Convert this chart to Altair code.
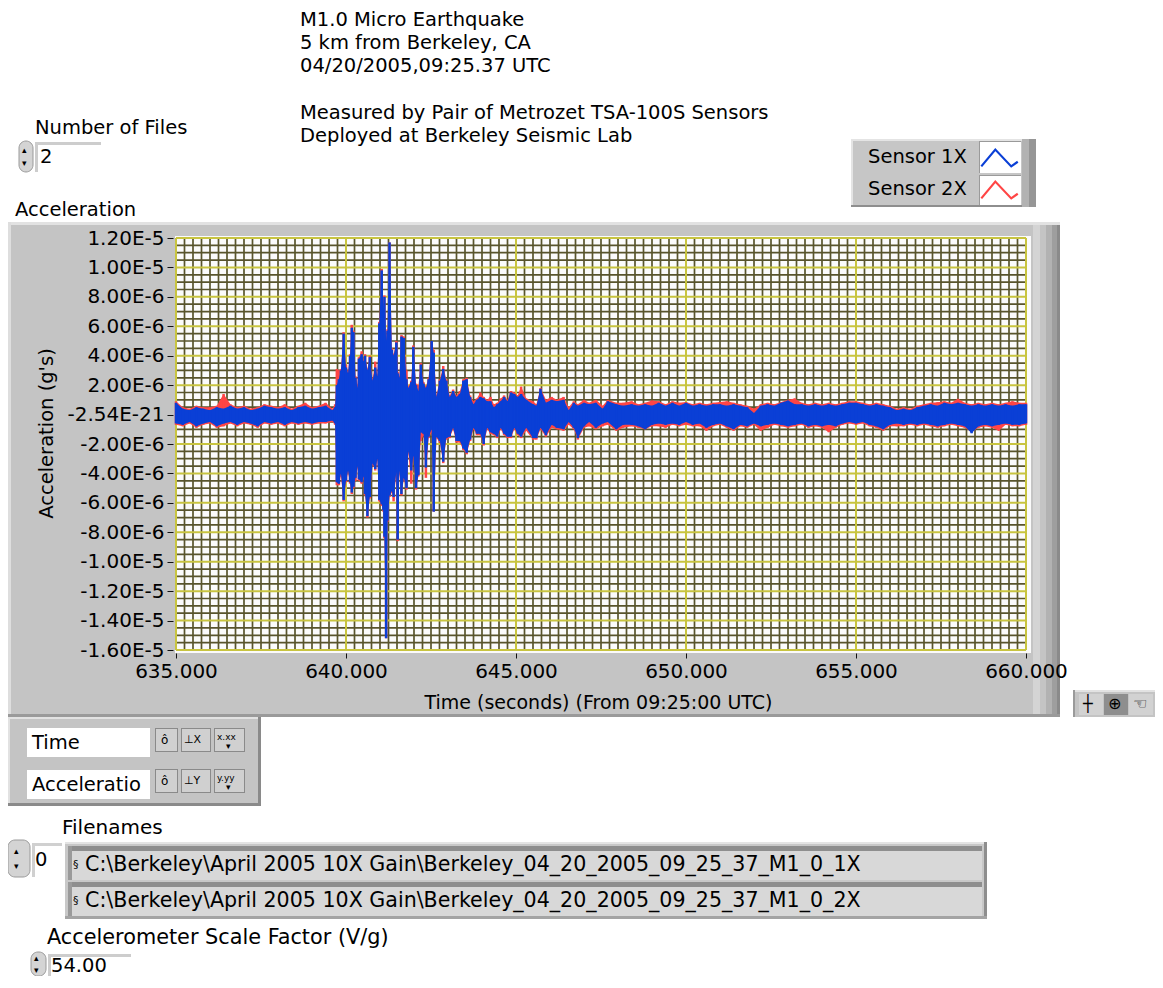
import altair as alt
import pandas as pd

# ---------------- data (acceleration in units of 1e-6 g) ----------------
TIME = [
    635.0, 635.2, 635.4, 635.6, 635.8, 636.0, 636.2, 636.4, 636.6, 636.8,
    637.0, 637.2, 637.4, 637.6, 637.8, 638.0, 638.2, 638.4, 638.6, 638.8,
    639.0, 639.2, 639.4, 639.6,
    639.68, 639.73, 639.79, 639.85, 639.93, 640.00, 640.06, 640.12, 640.17, 640.22,
    640.28, 640.34, 640.38, 640.46, 640.52, 640.56, 640.63, 640.70, 640.78, 640.86,
    640.92, 640.98, 641.05, 641.10, 641.13, 641.18, 641.22, 641.28, 641.35, 641.40,
    641.48, 641.52, 641.57, 641.63, 641.70, 641.78, 641.83, 641.92, 641.98, 642.06,
    642.13, 642.20, 642.28, 642.35, 642.43, 642.52, 642.58, 642.66, 642.76, 642.86,
    642.95, 643.05, 643.15, 643.25, 643.35, 643.45, 643.55, 643.65, 643.75, 643.85,
    643.95, 644.05, 644.15, 644.25, 644.35, 644.45, 644.55, 644.65, 644.75, 644.85,
    644.95, 645.05, 645.15, 645.30, 645.50, 645.60, 645.72, 645.88, 646.05, 646.20,
    646.40, 646.55, 646.70, 646.82, 647.00, 647.15, 647.35, 647.55, 647.70, 647.95,
    648.15,
    648.4, 648.6, 648.8, 649.0, 649.2, 649.4, 649.6, 649.8, 650.0, 650.2,
    650.4, 650.6, 650.8, 651.0, 651.2, 651.4, 651.6, 651.8, 652.0, 652.2,
    652.4, 652.6, 652.8, 653.0, 653.2, 653.4, 653.6, 653.8, 654.0, 654.2,
    654.4, 654.6, 654.8, 655.0, 655.2, 655.4, 655.6, 655.8, 656.0, 656.2,
    656.4, 656.6, 656.8, 657.0, 657.2, 657.4, 657.6, 657.8, 658.0, 658.2,
    658.4, 658.6, 658.8, 659.0, 659.2, 659.4, 659.6, 659.8, 660.0,
]

# Sensor 1X (blue) upper / lower envelope
S1_HI = [
    0.8, 0.4, 0.3, 0.5, 0.4, 0.3, 0.5, 0.4, 0.6, 0.4,
    0.5, 0.3, 0.4, 0.6, 0.5, 0.4, 0.5, 0.3, 0.5, 0.6,
    0.4, 0.5, 0.6, 0.3,
    0.5, 2.0, 2.4, 3.0, 5.5, 3.2, 2.8, 4.0, 5.9, 5.6,
    2.5, 1.8, 3.8, 4.1, 3.6, 4.0, 3.0, 3.9, 2.3, 3.2,
    2.6, 6.2, 9.8, 7.2, 8.0, 5.0, 5.7, 11.7, 4.4, 4.0,
    4.9, 2.8, 2.5, 5.3, 5.2, 2.4, 1.8, 2.2, 4.6, 2.0,
    1.6, 3.4, 2.1, 1.8, 2.4, 5.0, 4.2, 1.2, 2.3, 3.1,
    2.3, 1.2, 1.6, 1.2, 1.4, 2.3, 2.4, 1.2, 0.7, 1.0,
    1.2, 1.1, 0.9, 0.9, 0.5, 0.7, 0.9, 1.2, 0.9, 1.5,
    1.4, 1.2, 1.4, 1.0, 0.7, 0.6, 1.75, 0.8, 1.0, 0.9,
    1.0, 0.3, 0.8, 0.6, 0.8, 0.7, 0.8, 0.4, 0.9, 0.7,
    0.6,
    0.7, 0.6, 0.7, 0.6, 0.8, 0.6, 0.8, 0.6, 0.8, 0.6,
    0.7, 0.6, 0.7, 0.7, 0.6, 0.7, 0.6, 0.5, 0.1, 0.6,
    0.7, 0.6, 0.8, 0.95, 0.7, 0.7, 0.6, 0.7, 0.6, 0.7,
    0.6, 0.7, 0.8, 0.8, 0.7, 0.6, 0.7, 0.6, 0.5, 0.3,
    0.4, 0.3, 0.5, 0.6, 0.7, 0.6, 0.8, 0.7, 0.8, 0.7,
    0.6, 0.7, 0.6, 0.7, 0.6, 0.7, 0.6, 0.7, 0.7,
]
S1_LO = [
    -0.6, -0.7, -0.5, -0.8, -0.6, -0.5, -0.8, -0.6, -0.5, -0.7,
    -0.5, -0.6, -0.8, -0.5, -0.6, -0.5, -0.7, -0.5, -0.6, -0.5,
    -0.6, -0.5, -0.5, -0.4,
    -0.6, -4.6, -4.7, -4.0, -5.8, -4.5, -3.8, -4.6, -5.3, -4.9,
    -4.3, -3.5, -4.4, -4.6, -4.2, -5.4, -6.9, -5.6, -3.3, -3.7,
    -3.0, -5.8, -6.1, -6.5, -8.3, -15.2, -7.2, -5.5, -5.2, -5.6,
    -3.9, -8.5, -3.8, -5.4, -4.3, -5.0, -2.5, -3.8, -2.8, -5.0,
    -4.1, -1.2, -1.3, -3.6, -1.5, -1.0, -6.6, -1.5, -1.8, -3.2,
    -1.6, -1.5, -0.9, -1.8, -1.8, -2.3, -2.6, -1.7, -0.9, -1.3,
    -1.3, -2.0, -0.9, -1.2, -1.3, -1.5, -0.9, -1.3, -1.5, -1.5,
    -0.9, -1.3, -1.5, -0.9, -1.6, -1.6, -0.9, -1.4, -0.7, -0.9,
    -1.0, -0.5, -0.9, -1.6, -0.8, -0.5, -0.9, -0.6, -0.5, -1.0,
    -0.7,
    -0.7, -0.8, -1.0, -0.7, -0.6, -0.7, -0.6, -0.7, -0.5, -0.7,
    -0.6, -0.9, -0.7, -0.6, -0.8, -1.0, -0.7, -0.8, -0.6, -0.8,
    -0.7, -0.6, -0.7, -0.8, -0.7, -0.6, -0.8, -0.7, -0.8, -0.7,
    -0.8, -0.6, -0.5, -0.6, -0.5, -0.7, -0.8, -1.0, -0.7, -0.6,
    -0.7, -0.6, -0.7, -0.6, -0.7, -0.8, -0.7, -0.6, -0.7, -0.8,
    -1.27, -0.8, -0.7, -0.8, -0.7, -0.6, -0.7, -0.7, -0.6,
]

# Sensor 2X (red) upper / lower envelope
S2_HI = [
    0.9, 0.5, 0.4, 0.6, 0.5, 0.5, 0.6, 1.4, 0.7, 0.5,
    0.6, 0.4, 0.5, 0.7, 0.6, 0.5, 0.7, 0.4, 0.6, 0.8,
    0.5, 0.6, 0.8, 0.4,
    0.7, 3.1, 3.0, 3.1, 5.6, 3.4, 2.9, 4.1, 6.1, 5.7,
    2.6, 2.0, 3.9, 4.3, 3.7, 4.1, 3.1, 4.0, 2.4, 3.6,
    2.7, 6.3, 9.9, 7.3, 8.1, 5.1, 5.8, 11.7, 4.5, 4.1,
    5.0, 2.9, 2.6, 5.4, 5.3, 3.0, 1.9, 2.3, 4.7, 2.1,
    2.0, 3.5, 2.2, 1.9, 2.5, 5.0, 4.4, 1.3, 2.4, 3.3,
    2.4, 1.3, 1.7, 1.3, 1.6, 2.4, 2.5, 1.3, 0.9, 1.1,
    1.5, 1.2, 1.0, 1.2, 0.7, 0.8, 1.1, 1.3, 1.0, 1.6,
    1.5, 1.3, 1.9, 1.1, 0.9, 0.7, 1.8, 1.0, 1.2, 1.0,
    1.2, 0.5, 0.9, 0.7, 1.0, 0.8, 1.0, 0.6, 1.0, 0.8,
    0.8,
    0.9, 0.7, 0.8, 0.95, 0.9, 0.7, 0.9, 0.8, 0.85, 0.7,
    0.8, 0.7, 0.8, 0.85, 0.9, 0.8, 0.7, 0.6, 0.4, 0.7,
    0.8, 0.7, 0.85, 1.0, 1.1, 0.8, 0.7, 0.8, 0.7, 0.8,
    0.7, 0.8, 0.9, 0.9, 0.8, 0.7, 0.8, 0.7, 0.6, 0.4,
    0.5, 0.4, 0.6, 0.7, 0.8, 0.84, 0.9, 0.8, 1.07, 0.8,
    0.7, 0.8, 0.7, 0.8, 0.7, 0.8, 0.9, 0.8, 0.8,
]
S2_LO = [
    -0.7, -0.8, -0.6, -0.9, -0.7, -0.6, -0.9, -0.8, -0.6, -0.8,
    -0.6, -0.7, -0.9, -0.6, -0.7, -0.6, -0.8, -0.6, -0.7, -0.6,
    -0.7, -0.6, -0.6, -0.5,
    -0.7, -4.8, -4.8, -4.2, -5.9, -4.6, -3.9, -4.7, -5.4, -5.0,
    -4.5, -3.6, -4.5, -4.7, -4.3, -5.5, -7.0, -5.7, -3.4, -3.8,
    -3.1, -5.9, -6.2, -6.6, -8.4, -15.2, -7.3, -5.6, -5.3, -5.9,
    -4.0, -8.6, -3.9, -5.5, -4.4, -5.1, -2.6, -4.7, -2.9, -5.1,
    -4.2, -1.8, -1.4, -4.3, -1.6, -1.2, -6.6, -1.6, -1.9, -3.3,
    -1.7, -1.6, -1.0, -1.9, -1.9, -2.4, -2.7, -1.8, -1.0, -1.4,
    -1.4, -2.1, -1.0, -1.3, -1.4, -1.6, -1.0, -1.4, -1.6, -1.6,
    -1.0, -1.4, -1.6, -1.1, -1.7, -1.7, -1.0, -1.5, -0.9, -1.0,
    -1.1, -0.7, -1.0, -1.7, -0.9, -0.8, -1.0, -0.8, -0.7, -1.1,
    -0.9,
    -0.8, -0.9, -1.0, -0.8, -0.8, -0.9, -0.7, -0.8, -0.7, -0.8,
    -0.8, -1.1, -0.8, -0.7, -0.9, -1.1, -0.8, -0.9, -0.7, -1.1,
    -0.9, -0.7, -0.8, -0.9, -0.8, -0.7, -0.9, -0.8, -0.9, -1.2,
    -0.9, -0.7, -0.6, -0.7, -0.6, -0.8, -0.9, -1.1, -0.8, -0.8,
    -0.8, -0.7, -0.8, -0.7, -0.8, -0.9, -0.8, -0.7, -0.8, -0.9,
    -1.2, -0.9, -0.8, -0.9, -1.1, -0.7, -0.8, -0.8, -0.7,
]

SERIES_NAMES = ["Sensor 1X", "Sensor 2X"]
Y_TICKS = [12, 10, 8, 6, 4, 2, 0, -2, -4, -6, -8, -10, -12, -14, -16]
Y_TICK_LABELS = ["1.20E-5", "1.00E-5", "8.00E-6", "6.00E-6", "4.00E-6", "2.00E-6",
                 "-2.54E-21", "-2.00E-6", "-4.00E-6", "-6.00E-6", "-8.00E-6",
                 "-1.00E-5", "-1.20E-5", "-1.40E-5", "-1.60E-5"]
X_TICKS = [635, 640, 645, 650, 655, 660]
TITLE_LINES = ["M1.0 Micro Earthquake", "5 km from Berkeley, CA", "04/20/2005,09:25.37 UTC",
               "Measured by Pair of Metrozet TSA-100S Sensors", "Deployed at Berkeley Seismic Lab"]
FILENAMES = [r"C:\Berkeley\April 2005 10X Gain\Berkeley_04_20_2005_09_25_37_M1_0_1X",
             r"C:\Berkeley\April 2005 10X Gain\Berkeley_04_20_2005_09_25_37_M1_0_2X"]

assert len(TIME) == len(S1_HI) == len(S1_LO) == len(S2_HI) == len(S2_LO)

# ---------------- layout ----------------
FONT = "DejaVu Sans"
BLUE = "#0a3fd6"
RED = "#ff4545"
PANEL = "#c4c4c4"
PAD_L, PAD_T = 168, 230
W, H = 850, 412
PAD_R = 1147 - PAD_L - W
PAD_B = 968 - PAD_T - H
X_DOM = [635, 660]
Y_DOM = [-16, 12]


def cx(v):
    return v - 8 - PAD_L


def cy(v):
    return v - 8 - PAD_T


df = pd.DataFrame({"t": TIME, "s1_hi": S1_HI, "s1_lo": S1_LO, "s2_hi": S2_HI, "s2_lo": S2_LO})

xscale = alt.Scale(domain=X_DOM, nice=False, zero=False)
yscale = alt.Scale(domain=Y_DOM, nice=False, zero=False)

label_expr = " : ".join(f"datum.value == {v} ? '{s}'" for v, s in zip(Y_TICKS, Y_TICK_LABELS)) + " : ''"

x_axis = alt.Axis(values=X_TICKS, format=".3f", grid=False, domain=False, ticks=True,
                  tickSize=5, tickColor="#111111", offset=3, labelPadding=3,
                  labelFont=FONT, labelFontSize=20, labelColor="#000000",
                  labelFlush=False, labelOverlap=False,
                  title="Time (seconds) (From 09:25:00 UTC)", titleFont=FONT,
                  titleFontSize=19, titleFontWeight="normal", titleColor="#000000",
                  titleX=422, titleY=49, titleBaseline="middle", titleAlign="center",
                  zindex=1)
y_axis = alt.Axis(values=Y_TICKS, labelExpr=label_expr, grid=False, domain=False,
                  tickSize=6, tickColor="#111111", offset=3, labelPadding=3,
                  labelFont=FONT, labelFontSize=20, labelColor="#000000",
                  labelFlush=False, labelOverlap=False,
                  title="Acceleration (g's)", titleFont=FONT, titleFontSize=19.5,
                  titleFontWeight="normal", titleColor="#000000", titleAngle=270,
                  titleX=-127, titleY=195, titleAlign="center", titleBaseline="middle",
                  zindex=1)

# ---------------- chrome (LabVIEW panel look) ----------------
RECTS = [
    # graph panel
    (8, 222, 1060, 717, PANEL), (8, 222, 1060, 225, "#e2e2e2"), (8, 222, 11, 717, "#dedede"),
    (8, 714, 1060, 717, "#9a9a9a"),
    (1033, 225, 1040, 714, "#d4d4d4"), (1040, 225, 1046, 714, "#c4c4c4"),
    (1046, 225, 1052, 714, "#b2b2b2"), (1052, 225, 1057, 714, "#9e9e9e"),
    (1057, 225, 1060, 714, "#8a8a8a"),
    # plot background
    (175, 236, 1031, 653, "#fbfbfb"),
    # legend box
    (851, 139, 1036, 207, "#c6c6c6"), (851, 139, 1036, 141, "#e4e4e4"), (851, 139, 853, 207, "#e4e4e4"),
    (851, 205, 1036, 207, "#8e8e8e"), (1022, 139, 1029, 207, "#b2b2b2"), (1029, 139, 1036, 207, "#969696"),
    (979, 141, 1021, 173, "#9a9a9a"), (980, 142, 1021, 173, "#ffffff"),
    (979, 175, 1021, 205, "#9a9a9a"), (980, 176, 1021, 205, "#ffffff"),
    # number of files box
    (35, 142, 101, 172, "#ffffff"), (35, 142, 101, 145, "#cdcdcd"), (35, 142, 38, 172, "#cdcdcd"),
    # bottom-right tool panel
    (1073, 690, 1163, 717, PANEL), (1073, 690, 1163, 692, "#e2e2e2"), (1073, 690, 1075, 717, "#9a9a9a"),
    (1079, 694, 1103, 715, "#d2d2d2"), (1104, 694, 1128, 715, "#8e8e8e"), (1129, 694, 1153, 715, "#d2d2d2"),
    # scale legend panel
    (8, 717, 261, 806, PANEL), (8, 717, 261, 719, "#e2e2e2"), (8, 717, 10, 806, "#e2e2e2"),
    (258, 717, 261, 806, "#8a8a8a"), (8, 803, 261, 806, "#8a8a8a"),
    (27, 728, 150, 757, "#ffffff"), (27, 770, 150, 799, "#ffffff"),
    (155, 728, 178, 752, "#8a8a8a"), (156, 729, 177, 751, "#d0d0d0"),
    (181, 728, 211, 752, "#8a8a8a"), (182, 729, 210, 751, "#d0d0d0"),
    (214, 728, 245, 752, "#8a8a8a"), (215, 729, 244, 751, "#d0d0d0"),
    (155, 769, 178, 793, "#8a8a8a"), (156, 770, 177, 792, "#d0d0d0"),
    (181, 769, 211, 793, "#8a8a8a"), (182, 770, 210, 792, "#d0d0d0"),
    (214, 769, 245, 793, "#8a8a8a"), (215, 770, 244, 792, "#d0d0d0"),
    # filenames index box
    (32, 843, 62, 877, "#ffffff"), (32, 843, 62, 846, "#d0d0d0"), (32, 843, 35, 877, "#d0d0d0"),
    # filenames array frame and rows
    (65, 842, 987, 919, "#c8c8c8"), (65, 842, 987, 844, "#e4e4e4"), (984, 842, 987, 919, "#8e8e8e"),
    (65, 916, 987, 919, "#a4a4a4"),
    (68, 846, 982, 880, "#d8d8d8"), (68, 846, 982, 851, "#8e8e8e"), (68, 846, 72, 880, "#9a9a9a"),
    (68, 882, 982, 916, "#d8d8d8"), (68, 882, 982, 887, "#8e8e8e"), (68, 882, 72, 916, "#9a9a9a"),
    # scale factor box
    (48, 954, 131, 976, "#ffffff"), (48, 954, 131, 957, "#cdcdcd"), (48, 954, 51, 976, "#cdcdcd"),
]
rect_df = pd.DataFrame([{"x": cx(a), "y": cy(b), "x2": cx(c), "y2": cy(d), "fill": f}
                        for a, b, c, d, f in RECTS])

SPINNERS = [(19, 141, 33, 172), (8, 840, 30, 877), (31, 952, 46, 976)]
spin_df = pd.DataFrame([{"x": cx(a), "y": cy(b), "x2": cx(c), "y2": cy(d)} for a, b, c, d in SPINNERS])

TEXTS = [
    (TITLE_LINES[0], 300, 20, 19.5), (TITLE_LINES[1], 300, 43, 19.5), (TITLE_LINES[2], 300, 66, 19.5),
    (TITLE_LINES[3], 300, 113, 19.5), (TITLE_LINES[4], 300, 136, 19.5),
    ("Number of Files", 35, 128, 19.5), ("2", 40, 157, 19.5),
    ("Acceleration", 15, 210, 19.5),
    (SERIES_NAMES[0], 868, 157, 19.5), (SERIES_NAMES[1], 868, 189, 19.5),
    ("Time", 32, 743, 19.5), ("Acceleratio", 32, 785, 19.5),
    ("Filenames", 62, 828, 20), ("0", 35, 860, 19.5),
    (FILENAMES[0], 85, 865, 20.6), (FILENAMES[1], 85, 901, 20.6),
    ("Accelerometer Scale Factor (V/g)", 47, 938, 20.8), ("54.00", 51, 966, 19.5),
    # small glyphs
    ("§", 73, 865, 11), ("§", 73, 901, 11),
    ("ô", 161, 740, 12), ("ô", 161, 781, 12),
    ("⊥X", 184, 740, 11), ("⊥Y", 184, 781, 11),
    ("x.xx", 217, 737, 9), ("y.yy", 217, 778, 9),
    ("▾", 226, 746, 9), ("▾", 226, 787, 9),
    ("┼", 1083, 704, 16), ("⊕", 1108, 704, 16), ("☜", 1133, 704, 16),
    ("▴", 22, 150, 9), ("▾", 22, 163, 9),
    ("▴", 14, 851, 9), ("▾", 14, 866, 9),
    ("▴", 34, 958, 9), ("▾", 34, 970, 9),
]
text_df = pd.DataFrame([{"x": cx(a), "y": cy(b), "text": s, "size": z} for s, a, b, z in TEXTS])

ICONS = [(1000, 158, BLUE), (1000, 190, RED)]
icon_df = pd.DataFrame([{"x": cx(a), "y": cy(b), "c": c} for a, b, c in ICONS])

px_x = alt.X("x:Q", scale=None, axis=None)
px_y = alt.Y("y:Q", scale=None, axis=None)

back = alt.Chart(rect_df).mark_rect(strokeWidth=0).encode(
    x=px_x, y=px_y, x2="x2:Q", y2="y2:Q", fill=alt.Fill("fill:N", scale=None))

spinners = alt.Chart(spin_df).mark_rect(cornerRadius=7, fill="#d4d4d4", stroke="#9a9a9a",
                                        strokeWidth=1).encode(x=px_x, y=px_y, x2="x2:Q", y2="y2:Q")

texts = alt.Chart(text_df).mark_text(align="left", baseline="middle", font=FONT, color="#000000").encode(
    x=px_x, y=px_y, text="text:N", size=alt.Size("size:Q", scale=None))

icons = alt.Chart(icon_df).mark_point(
    shape="M-1,0.45L-0.25,-0.45L0.6,0.45L0.95,0.2", filled=False, size=1400, strokeWidth=2.2, opacity=1
).encode(x=px_x, y=px_y, stroke=alt.Stroke("c:N", scale=None))

# ---------------- grid ----------------
minor_x = pd.DataFrame({"t": [635 + 0.25 * i for i in range(101) if i % 20 != 0]})
major_x = pd.DataFrame({"t": X_TICKS})
minor_y = pd.DataFrame({"a": [-16 + 0.5 * i for i in range(57) if i % 4 != 0]})
major_y = pd.DataFrame({"a": Y_TICKS})

MINOR_C = "#58542c"
MAJOR_C = "#c8c440"
gx_minor = alt.Chart(minor_x).mark_rule(color=MINOR_C, strokeWidth=1.7).encode(
    x=alt.X("t:Q", scale=xscale, axis=x_axis))
gy_minor = alt.Chart(minor_y).mark_rule(color=MINOR_C, strokeWidth=1.7).encode(
    y=alt.Y("a:Q", scale=yscale, axis=y_axis))
gx_major = alt.Chart(major_x).mark_rule(color=MAJOR_C, strokeWidth=2).encode(
    x=alt.X("t:Q", scale=xscale, axis=x_axis))
gy_major = alt.Chart(major_y).mark_rule(color=MAJOR_C, strokeWidth=2).encode(
    y=alt.Y("a:Q", scale=yscale, axis=y_axis))

# ---------------- waveforms ----------------
red = alt.Chart(df).mark_area(color=RED, opacity=1, interpolate="linear").encode(
    x=alt.X("t:Q", scale=xscale, axis=x_axis),
    y=alt.Y("s2_hi:Q", scale=yscale, axis=y_axis), y2="s2_lo:Q")
red_ticks = alt.Chart(df).mark_rule(color=RED, strokeWidth=2.5).encode(
    x=alt.X("t:Q", scale=xscale, axis=x_axis),
    y=alt.Y("s2_hi:Q", scale=yscale, axis=y_axis), y2="s2_lo:Q")
blue = alt.Chart(df).mark_area(color=BLUE, opacity=1, interpolate="linear").encode(
    x=alt.X("t:Q", scale=xscale, axis=x_axis),
    y=alt.Y("s1_hi:Q", scale=yscale, axis=y_axis), y2="s1_lo:Q")
blue_ticks = alt.Chart(df).mark_rule(color=BLUE, strokeWidth=2.5).encode(
    x=alt.X("t:Q", scale=xscale, axis=x_axis),
    y=alt.Y("s1_hi:Q", scale=yscale, axis=y_axis), y2="s1_lo:Q")

chart = alt.layer(
    back, spinners, gx_minor, gy_minor, gx_major, gy_major, red, red_ticks, blue, blue_ticks,
    texts, icons
).properties(
    width=W, height=H,
    padding={"left": PAD_L, "top": PAD_T, "right": PAD_R, "bottom": PAD_B},
    autosize=alt.AutoSizeParams(type="none"),
    background="#ffffff",
).configure_view(stroke=None)

chart.save("out.html", embed_options={"renderer": "svg", "actions": False})
